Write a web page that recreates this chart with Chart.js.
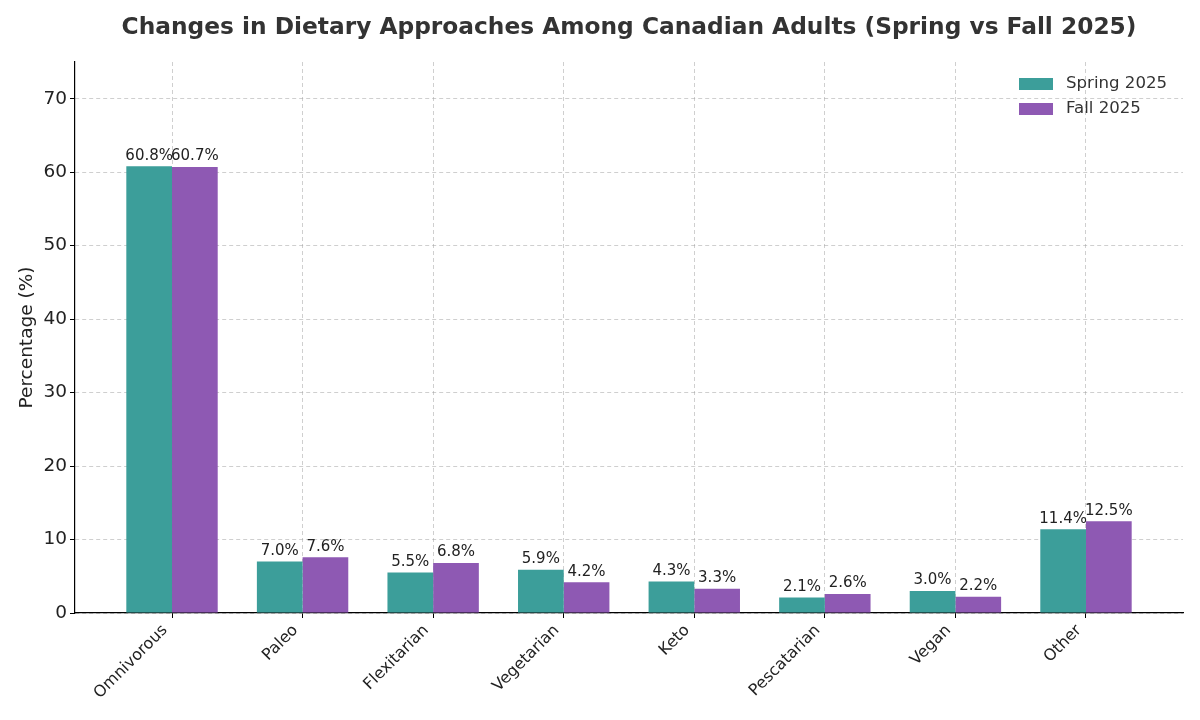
<!DOCTYPE html>
<html>
<head>
<meta charset="utf-8">
<script src="https://cdn.jsdelivr.net/npm/chart.js@4"></script>
<style>
  html, body { margin: 0; padding: 0; background: #fff; }
  #wrap { width: 1200px; height: 720px; }
</style>
</head>
<body>
<div id="wrap"><canvas id="chart" width="1200" height="720"></canvas></div>
<script>
const categories = ['Omnivorous', 'Paleo', 'Flexitarian', 'Vegetarian', 'Keto', 'Pescatarian', 'Vegan', 'Other'];
const spring2025 = [60.8, 7.0, 5.5, 5.9, 4.3, 2.1, 3.0, 11.4];
const fall2025 = [60.7, 7.6, 6.8, 4.2, 3.3, 2.6, 2.2, 12.5];
const yTicks = [0, 10, 20, 30, 40, 50, 60, 70];

const FONT = 'DejaVu Sans';
const TEAL = '#3c9e9a';
const PURPLE = '#8e59b3';
const GRID = 'rgba(160,160,160,0.5)';

// title centred over the plot area, like matplotlib
const titlePlugin = {
  id: 'plotTitle',
  afterDraw(chart) {
    const { ctx, chartArea } = chart;
    ctx.save();
    ctx.font = 'bold 23.3px "' + FONT + '"';
    ctx.fillStyle = '#333';
    ctx.textAlign = 'center';
    ctx.textBaseline = 'middle';
    ctx.fillText('Changes in Dietary Approaches Among Canadian Adults (Spring vs Fall 2025)',
      (chartArea.left + chartArea.right) / 2, 28);
    ctx.restore();
  }
};

// value labels on top of each bar
const valueLabels = {
  id: 'valueLabels',
  afterDatasetsDraw(chart) {
    const { ctx } = chart;
    ctx.save();
    ctx.font = '15px "' + FONT + '"';
    ctx.fillStyle = '#222';
    ctx.textAlign = 'center';
    ctx.textBaseline = 'bottom';
    chart.data.datasets.forEach((ds, di) => {
      chart.getDatasetMeta(di).data.forEach((bar, i) => {
        ctx.fillText(ds.data[i].y.toFixed(1) + '%', bar.x, bar.y - 3);
      });
    });
    ctx.restore();
  }
};

// legend inside the plot, top right, stacked
const innerLegend = {
  id: 'innerLegend',
  afterDraw(chart) {
    const { ctx, chartArea } = chart;
    ctx.save();
    ctx.font = '16.6px "' + FONT + '"';
    ctx.textBaseline = 'middle';
    chart.data.datasets.forEach((ds, i) => {
      const y = chartArea.top + 22 + i * 25;
      const x = chartArea.right - 164;
      ctx.fillStyle = ds.backgroundColor;
      ctx.fillRect(x, y - 6, 34, 12);
      ctx.fillStyle = '#333';
      ctx.fillText(ds.label, x + 47, y);
    });
    ctx.restore();
  }
};

new Chart(document.getElementById('chart'), {
  type: 'bar',
  data: {
    datasets: [
      {
        label: 'Spring 2025',
        data: spring2025.map((v, i) => ({ x: i, y: v })),
        backgroundColor: TEAL,
        borderWidth: 0,
        categoryPercentage: 0.7,
        barPercentage: 1.0,
      },
      {
        label: 'Fall 2025',
        data: fall2025.map((v, i) => ({ x: i, y: v })),
        backgroundColor: PURPLE,
        borderWidth: 0,
        categoryPercentage: 0.7,
        barPercentage: 1.0,
      },
    ],
  },
  options: {
    responsive: false,
    animation: false,
    layout: { padding: { top: 62, right: 17, left: 0, bottom: 0 } },
    plugins: {
      legend: { display: false },
      title: { display: false },
      tooltip: { enabled: false },
    },
    scales: {
      x: {
        type: 'linear',
        min: -0.743,
        max: 7.743,
        offset: false,
        z: 1,
        afterBuildTicks: (s) => { s.ticks = categories.map((c, i) => ({ value: i })); },
        afterFit: (s) => { s.height = 107; },
        grid: {
          offset: false,
          color: GRID,
          tickColor: '#000',
          tickLength: 5,
          tickBorderDash: [],
        },
        border: { display: true, color: '#000', width: 1.2, dash: [4, 3] },
        ticks: {
          autoSkip: false,
          minRotation: 45,
          maxRotation: 45,
          padding: 3,
          labelOffset: -7,
          color: '#222',
          font: { family: FONT, size: 16 },
          callback: (v) => categories[v] ?? '',
        },
      },
      y: {
        min: 0,
        max: 75,
        z: 1,
        afterBuildTicks: (s) => { s.ticks = yTicks.map((v) => ({ value: v })); },
        afterFit: (s) => { s.width = 75; },
        grid: {
          color: GRID,
          tickColor: '#000',
          tickLength: 5,
          tickBorderDash: [],
        },
        border: { display: true, color: '#000', width: 1.2, dash: [4, 3] },
        ticks: {
          padding: 3,
          color: '#222',
          font: { family: FONT, size: 18.5 },
        },
        title: {
          display: true,
          text: 'Percentage (%)',
          color: '#222',
          padding: { top: 16, bottom: 0 },
          font: { family: FONT, size: 18.5 },
        },
      },
    },
  },
  plugins: [titlePlugin, valueLabels, innerLegend],
});
</script>
</body>
</html>
